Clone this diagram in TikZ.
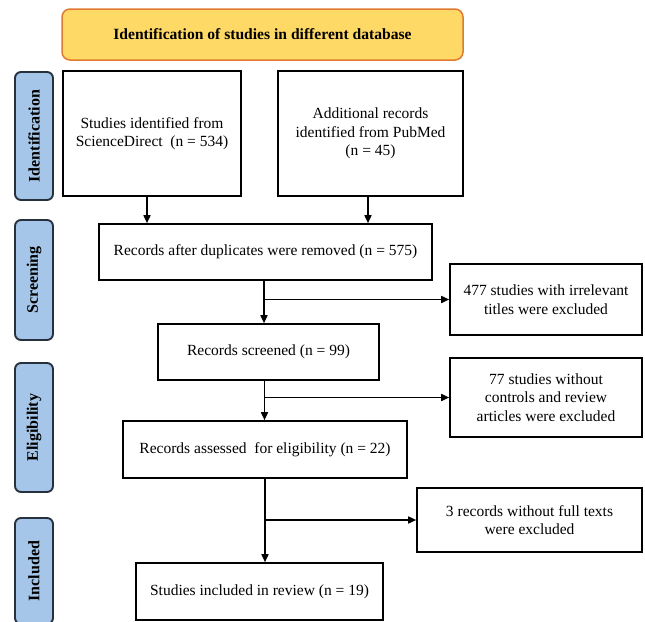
\documentclass[tikz,border=0pt]{standalone}
\usepackage{fontspec}
\setmainfont{Liberation Serif}
\usetikzlibrary{arrows.meta}
\definecolor{titlefill}{HTML}{FFD966}
\definecolor{titleline}{HTML}{E07A30}
\definecolor{labfill}{HTML}{A5C6E8}
\definecolor{labline}{HTML}{26313D}
\tikzset{
  box/.style={draw=black, line width=1.6pt, fill=white, align=center, inner sep=2pt,
    font=\fontsize{15.5}{18.5}\selectfont},
  titlebox/.style={draw=titleline, line width=1.5pt, fill=titlefill, rounded corners=8pt,
    align=center, font=\fontsize{15.6}{18}\selectfont\bfseries},
  stage/.style={draw=labline, line width=1.9pt, fill=labfill, rounded corners=6pt,
    minimum width=38pt, font=\fontsize{16}{18}\selectfont\bfseries},
  arr/.style={line width=1.6pt, -{Triangle[length=8pt,width=7pt]}},
  ln/.style={line width=1.6pt}
}
\begin{document}
\begin{tikzpicture}[x=1pt,y=-1pt]
\useasboundingbox (0,0) rectangle (645,621);
% title
\node[titlebox, minimum width=401pt, minimum height=51pt] (title) at (262.5,34.5)
  {Identification of studies in different database};
% stage labels
\node[stage, minimum height=128pt] (lid) at (34,136) {\rotatebox{90}{Identification}};
\node[stage, minimum height=120pt] (lsc) at (34,280) {\rotatebox{90}{Screening}};
\node[stage, minimum height=129pt] (lel) at (34,427.5) {\rotatebox{90}{Eligibility}};
\node[stage, minimum height=106pt] (lin) at (34,571) {\rotatebox{90}{Included}};
% boxes
\node[box, minimum width=178pt, minimum height=125pt] (b1) at (152,133.5)
  {Studies identified from\\ScienceDirect\ \ (n = 534)};
\node[box, minimum width=185pt, minimum height=125pt] (b2) at (370.5,133.5)
  {Additional records\\identified from PubMed\\(n = 45)};
\node[box, minimum width=333pt, minimum height=56pt] (b3) at (265.5,252)
  {Records after duplicates were removed (n = 575)};
\node[box, minimum width=192pt, minimum height=71pt] (e1) at (546,299.5)
  {477 studies with irrelevant\\titles were excluded};
\node[box, minimum width=221pt, minimum height=56pt] (b4) at (268.5,352)
  {Records screened (n = 99)};
\node[box, minimum width=192pt, minimum height=79pt] (e2) at (546,397.5)
  {77 studies without\\controls and review\\articles were excluded};
\node[box, minimum width=284pt, minimum height=57pt] (b5) at (265,449.5)
  {Records assessed\ \ for eligibility (n = 22)};
\node[box, minimum width=225pt, minimum height=64pt] (e3) at (529.5,520)
  {3 records without full texts\\were excluded};
\node[box, minimum width=247pt, minimum height=57pt] (b6) at (259.5,591.5)
  {Studies included in review (n = 19)};
% connectors
\draw[arr] ([xshift=-5pt]b1.south) -- ([xshift=-5pt]b1.south |- b3.north);
\draw[arr] ([xshift=-2.5pt]b2.south) -- ([xshift=-2.5pt]b2.south |- b3.north);
\coordinate (s1) at ([xshift=-1.5pt]b3.south);
\draw[arr] (s1) -- (s1 |- b4.north);
\coordinate (j1) at (s1 |- e1.west);
\draw[arr] (j1) -- (e1.west);
\coordinate (s2) at ([xshift=-4pt]b4.south);
\draw[arr] (s2) -- (s2 |- b5.north);
\coordinate (j2) at (s2 |- e2.west);
\draw[arr] (j2) -- (e2.west);
\coordinate (s3) at (b5.south);
\draw[arr] (s3) -- (s3 |- b6.north);
\coordinate (j3) at (s3 |- e3.west);
\draw[arr] (j3) -- (e3.west);
\end{tikzpicture}
\end{document}
